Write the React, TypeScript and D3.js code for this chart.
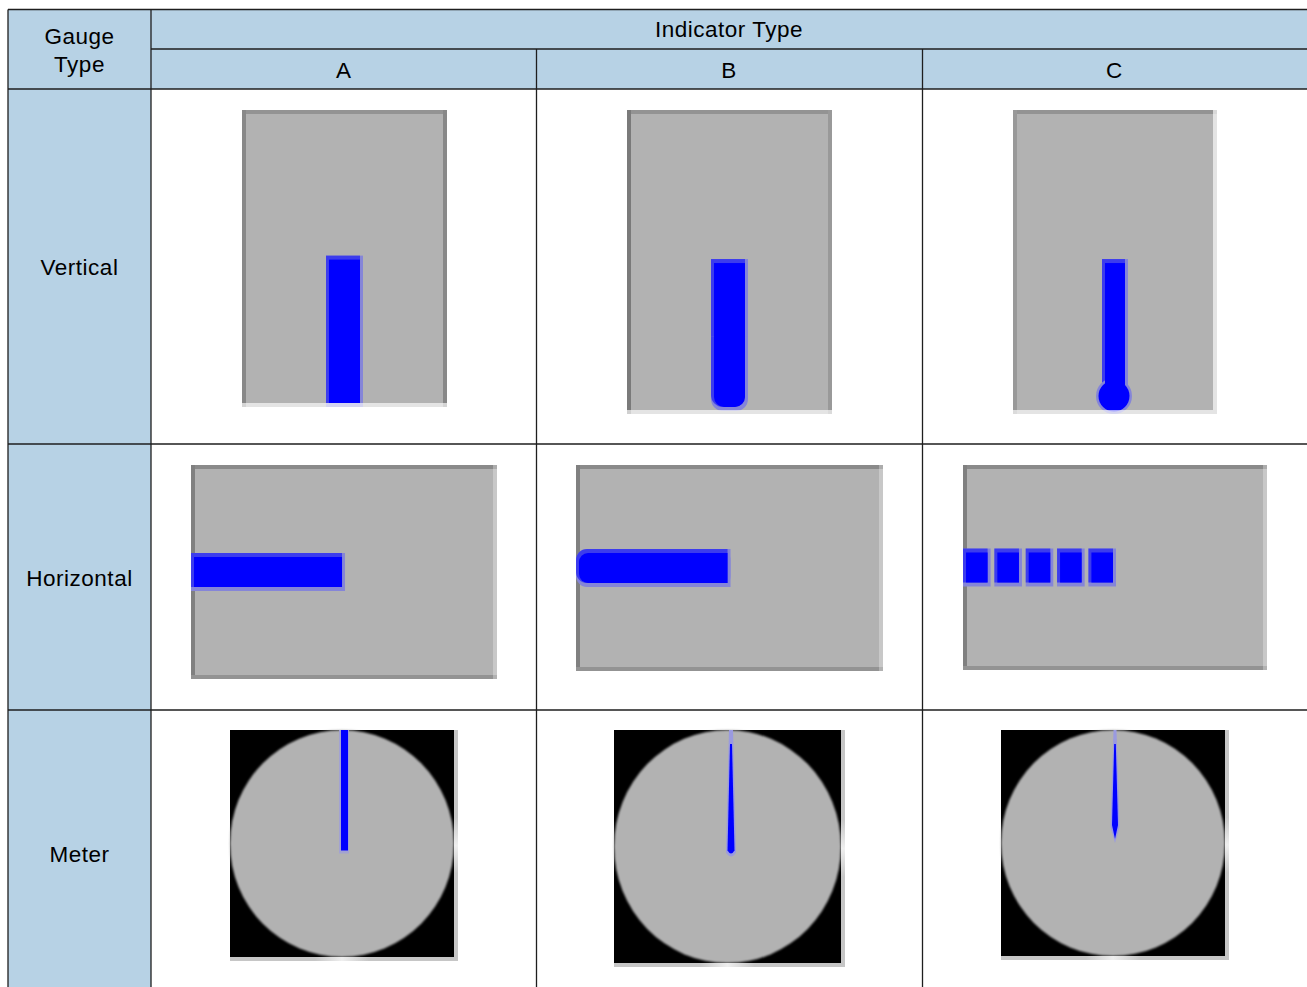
import React from "react";
import * as d3 from "d3";

// ---- data ----
const indicatorTypes = ["A", "B", "C"];
const gaugeTypes = ["Vertical", "Horizontal", "Meter"];
const headerTitle = "Indicator Type";
const cornerTitle = ["Gauge", "Type"];
const verticalValues = [0.51, 0.51, 0.51];
const horizontalValues = [0.51, 0.51, 0.51];
const meterValues = [0.5, 0.5, 0.5];
const segmentCount = 5;

// ---- layout ----
const W = 1307;
const H = 987;
const tableLeft = 8;
const firstColRight = 151;
const tableRight = 1307;
const rowEdges = [9.5, 49, 89, 444, 710, 996];
const headBlue = "#b7d2e5";
const lineColor = "#1e1e1e";
const FONT = "'Liberation Sans', Arial, Helvetica, sans-serif";
const FS = 22.5;
const LS = 0.5;
const EDGE = 4;
const GRAY = "#b2b2b2";
const BLUE = "#0000ff";

const colX = d3.scaleBand<string>().domain(indicatorTypes).range([firstColRight, tableRight]);

type Frame = { x0: number; x1: number; y0: number; y1: number; top: string; left: string; right: string; rightLight: boolean };
const verticalFrames: Frame[] = [
  { x0: 242, x1: 447, y0: 110, y1: 407, top: "#939393", left: "#888888", right: "#888888", rightLight: false },
  { x0: 627, x1: 832, y0: 110, y1: 414, top: "#939393", left: "#7a7a7a", right: "#999999", rightLight: false },
  { x0: 1013, x1: 1217, y0: 110, y1: 414, top: "#939393", left: "#999999", right: "", rightLight: true },
];
const verticalBarWidths = [37, 37, 26];
const horizontalFrames: Frame[] = [
  { x0: 191, x1: 497, y0: 465, y1: 679, top: "#8a8a8a", left: "#808080", right: "", rightLight: true },
  { x0: 576, x1: 883, y0: 465, y1: 671, top: "#8a8a8a", left: "#808080", right: "", rightLight: true },
  { x0: 963, x1: 1267, y0: 465, y1: 670, top: "#8a8a8a", left: "#808080", right: "", rightLight: true },
];
const horizontalBarHeight = 38;
const meterFrames = [
  { x0: 230, x1: 454, y0: 730, y1: 957, nx: 344 },
  { x0: 614, x1: 841, y0: 730, y1: 963, nx: 731 },
  { x0: 1001, x1: 1225, y0: 730, y1: 956, nx: 1115 },
];
const meterAngle = d3.scaleLinear().domain([0, 1]).range([-135, 135]);

function BlueBar({ x, y, w, h, rx = 0 }: { x: number; y: number; w: number; h: number; rx?: number }) {
  return (
    <g>
      <rect x={x} y={y} width={w} height={h} rx={rx} fill="#8585d8" />
      <rect x={x + 3} y={y + 4} width={Math.max(0, w - 6)} height={Math.max(0, h - 8)} rx={Math.max(0, rx - 2)} fill={BLUE} />
      <rect x={x} y={y} width={w - 3} height={h - 4} rx={rx} fill={BLUE} opacity={0.55} />
    </g>
  );
}

function FrameBox({ f }: { f: Frame }) {
  return (
    <g>
      <rect x={f.x0} y={f.y0} width={f.x1 - f.x0} height={f.y1 - f.y0} fill={GRAY} />
      <rect x={f.x0} y={f.y0} width={f.x1 - f.x0} height={EDGE} fill={f.top} />
      <rect x={f.x0} y={f.y0} width={EDGE} height={f.y1 - f.y0} fill={f.left} />
      {!f.rightLight && <rect x={f.x1 - EDGE} y={f.y0} width={EDGE} height={f.y1 - f.y0} fill={f.right} />}
    </g>
  );
}

export default function App() {
  const lines: JSX.Element[] = [];
  const fills = (
    <g>
      <rect x={tableLeft} y={rowEdges[0]} width={tableRight - tableLeft} height={rowEdges[2] - rowEdges[0]} fill={headBlue} />
      <rect x={tableLeft} y={rowEdges[0]} width={firstColRight - tableLeft} height={H - rowEdges[0] + 20} fill={headBlue} />
    </g>
  );
  lines.push(<line key="t" x1={tableLeft} x2={tableRight} y1={rowEdges[0]} y2={rowEdges[0]} />);
  lines.push(<line key="h1" x1={firstColRight} x2={tableRight} y1={rowEdges[1]} y2={rowEdges[1]} />);
  rowEdges.slice(2, 5).forEach((y, i) => lines.push(<line key={"r" + i} x1={tableLeft} x2={tableRight} y1={y} y2={y} />));
  lines.push(<line key="l" x1={tableLeft} x2={tableLeft} y1={rowEdges[0]} y2={H + 10} />);
  lines.push(<line key="c0" x1={firstColRight} x2={firstColRight} y1={rowEdges[0]} y2={H + 10} />);
  indicatorTypes.slice(1).forEach((c) => {
    const x = Math.round(colX(c)!) + 0.5;
    lines.push(<line key={"c" + c} x1={x} x2={x} y1={rowEdges[1]} y2={H + 10} />);
  });

  const cx = (firstColRight + tableRight) / 2;
  const textProps = { fontSize: FS, textAnchor: "middle" as const, fill: "#000", letterSpacing: LS };

  return (
    <svg width={W} height={H} style={{ position: "absolute", left: 0, top: 0, display: "block" }} fontFamily={FONT}>
      <defs>
        <linearGradient id="stripV" x1="0" y1="0" x2="0" y2="1">
          <stop offset="0" stopColor="#c6c6c6" />
          <stop offset="0.38" stopColor="#c6c6c6" />
          <stop offset="0.5" stopColor="#efefef" />
          <stop offset="0.62" stopColor="#c6c6c6" />
          <stop offset="1" stopColor="#c6c6c6" />
        </linearGradient>
        <linearGradient id="stripH" x1="0" y1="0" x2="1" y2="0">
          <stop offset="0" stopColor="#c6c6c6" />
          <stop offset="0.38" stopColor="#c6c6c6" />
          <stop offset="0.5" stopColor="#efefef" />
          <stop offset="0.62" stopColor="#c6c6c6" />
          <stop offset="1" stopColor="#c6c6c6" />
        </linearGradient>
        <filter id="soft" x="-5%" y="-5%" width="110%" height="110%">
          <feGaussianBlur stdDeviation="0.8" />
        </filter>
      </defs>
      <rect x={0} y={0} width={W} height={H} fill="#ffffff" />
      {fills}

      {/* header texts */}
      <text x={cx} y={37} {...textProps}>{headerTitle}</text>
      {indicatorTypes.map((c) => (
        <text key={c} x={colX(c)! + colX.bandwidth() / 2} y={78} {...textProps}>{c}</text>
      ))}
      {cornerTitle.map((t, i) => (
        <text key={t} x={(tableLeft + firstColRight) / 2} y={43.5 + i * 28.5} {...textProps}>{t}</text>
      ))}
      {gaugeTypes.map((g, i) => (
        <text key={g} x={(tableLeft + firstColRight) / 2} y={(rowEdges[i + 2] + rowEdges[i + 3]) / 2 + 8.5} {...textProps}>{g}</text>
      ))}

      {/* vertical gauges */}
      {verticalFrames.map((f, i) => {
        const y = d3.scaleLinear().domain([0, 1]).range([f.y1 - EDGE, f.y0 + EDGE]);
        const w = verticalBarWidths[i];
        const mid = (f.x0 + f.x1) / 2;
        const top = y(verticalValues[i]);
        return (
          <g key={"v" + i}>
            <FrameBox f={f} />
            {i === 0 && <BlueBar x={mid - w / 2} y={top} w={w} h={f.y1 - top} />}
            {i === 1 && (
              <g>
                <BlueBar x={mid - w / 2} y={top} w={w} h={f.y1 - top - 3} rx={12} />
                <rect x={mid - w / 2} y={top} width={w} height={(f.y1 - top) / 2} fill="#8585d8" />
                <rect x={mid - w / 2 + 3} y={top + 4} width={w - 6} height={(f.y1 - top) / 2} fill={BLUE} />
                <rect x={mid - w / 2} y={top} width={w - 3} height={(f.y1 - top) / 2} fill={BLUE} opacity={0.55} />
              </g>
            )}
            {i === 2 && (
              <g>
                <BlueBar x={mid - w / 2} y={top} w={w} h={f.y1 - 16 - top} />
                <circle cx={mid - 1} cy={f.y1 - 18} r={18} fill="#8585d8" />
                <circle cx={mid - 1} cy={f.y1 - 18} r={15.5} fill={BLUE} />
                <rect x={mid - w / 2 + 3} y={f.y1 - 40} width={w - 6} height={24} fill={BLUE} />
              </g>
            )}
            <rect x={f.x0} y={f.y1 - EDGE} width={f.x1 - f.x0} height={EDGE} fill="#ffffff" opacity={0.65} />
            {f.rightLight && <rect x={f.x1 - EDGE} y={f.y0} width={EDGE} height={f.y1 - f.y0 - EDGE} fill="#ffffff" opacity={0.65} />}
          </g>
        );
      })}

      {/* horizontal gauges */}
      {horizontalFrames.map((f, i) => {
        const x = d3.scaleLinear().domain([0, 1]).range([f.x0, f.x1 - EDGE]);
        const end = x(horizontalValues[i]);
        const mid = (f.y0 + f.y1) / 2;
        const h = horizontalBarHeight;
        let bar: JSX.Element | null = null;
        if (i === 0) bar = <BlueBar x={f.x0} y={mid - h / 2} w={end - f.x0} h={h} />;
        if (i === 1)
          bar = (
            <g>
              <BlueBar x={f.x0} y={mid - h / 2} w={end - f.x0} h={h} rx={11} />
              <rect x={f.x0 + 20} y={mid - h / 2} width={end - f.x0 - 20} height={h} fill="#8585d8" />
              <rect x={f.x0 + 20} y={mid - h / 2 + 4} width={end - f.x0 - 23} height={h - 8} fill={BLUE} />
              <rect x={f.x0 + 20} y={mid - h / 2} width={end - f.x0 - 23} height={h - 4} fill={BLUE} opacity={0.55} />
            </g>
          );
        if (i === 2) {
          const seg = d3.scaleBand<number>().domain(d3.range(segmentCount)).range([f.x0, end]).paddingInner(0.12);
          bar = (
            <g>
              {d3.range(segmentCount).map((s) => (
                <BlueBar key={s} x={seg(s)!} y={mid - h / 2} w={seg.bandwidth()} h={h} />
              ))}
            </g>
          );
        }
        return (
          <g key={"h" + i}>
            <FrameBox f={f} />
            <rect x={f.x0} y={f.y1 - EDGE} width={f.x1 - f.x0} height={EDGE} fill="#939393" />
            {bar}
            <rect x={f.x1 - EDGE} y={f.y0} width={EDGE} height={f.y1 - f.y0} fill="#ffffff" opacity={0.29} />
          </g>
        );
      })}

      {/* meters */}
      {meterFrames.map((m, i) => {
        const ccx = (m.x0 + m.x1) / 2;
        const ccy = (m.y0 + m.y1) / 2;
        const rx = (m.x1 - m.x0) / 2;
        const ry = (m.y1 - m.y0) / 2;
        const ang = meterAngle(meterValues[i]);
        const off = m.nx - ccx;
        let needle: JSX.Element;
        if (i === 0) {
          needle = (
            <g>
              <rect x={off - 5} y={-ry} width={10} height={ry + 10} fill="#a2a2d2" />
              <rect x={off - 3} y={-ry} width={7} height={ry + 7} fill={BLUE} />
            </g>
          );
        } else if (i === 1) {
          needle = (
            <g>
              <path d={`M${off - 2},${-ry} L${off + 2},${-ry} L${off + 5},${6} Q${off},${14} ${off - 5},${6} Z`} fill="#9a9ae0" />
              <path d={`M${off - 1},${-ry + 14} L${off + 1},${-ry + 14} L${off + 3.5},${4} Q${off},${10} ${off - 3.5},${4} Z`} fill={BLUE} />
            </g>
          );
        } else {
          needle = (
            <g>
              <path d={`M${off - 1.5},${-ry} L${off + 1.5},${-ry} L${off + 4.5},${-16} L${off},${0} L${off - 4.5},${-16} Z`} fill="#9a9ae0" />
              <path d={`M${off - 0.8},${-ry + 14} L${off + 0.8},${-ry + 14} L${off + 3},${-18} L${off},${-4} L${off - 3},${-18} Z`} fill={BLUE} />
            </g>
          );
        }
        return (
          <g key={"m" + i}>
            <rect x={m.x0} y={m.y0} width={m.x1 - m.x0} height={m.y1 - m.y0} fill="#000000" />
            <ellipse cx={ccx} cy={ccy} rx={rx} ry={ry} fill={GRAY} filter="url(#soft)" />
            <g transform={`translate(${ccx},${ccy}) rotate(${ang})`}>{needle}</g>
            <rect x={m.x1} y={m.y0} width={EDGE} height={m.y1 - m.y0 + EDGE} fill="url(#stripV)" />
            <rect x={m.x0} y={m.y1} width={m.x1 - m.x0} height={EDGE} fill="url(#stripH)" />
          </g>
        );
      })}

      <g stroke={lineColor} strokeWidth={1.3} fill="none">{lines}</g>
    </svg>
  );
}
